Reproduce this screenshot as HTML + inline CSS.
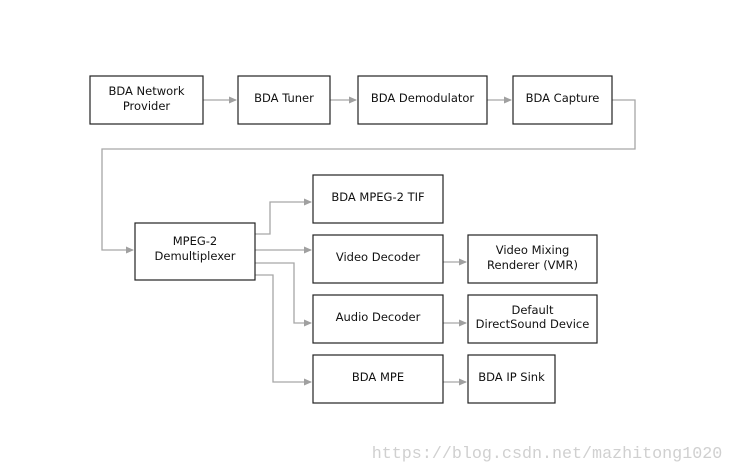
<!DOCTYPE html>
<html><head><meta charset="utf-8"><style>
body{margin:0;background:#fff;}
svg{display:block;}
text{font-family:"DejaVu Sans","Liberation Sans",sans-serif;font-size:11.5px;fill:#111;text-anchor:middle;}
rect{fill:#fff;stroke:#222;stroke-width:1.2;}
.l{fill:none;stroke:#a6a6a6;stroke-width:1.3;}
</style></head><body>
<svg width="733" height="471" viewBox="0 0 733 471">
<defs><marker id="a" markerWidth="8" markerHeight="8" refX="7" refY="4" orient="auto" markerUnits="userSpaceOnUse"><path d="M0,0.5 L8,4 L0,7.5z" fill="#a0a0a0"/></marker></defs>
<path class="l" d="M203,100H236" marker-end="url(#a)"/>
<path class="l" d="M330,100H356" marker-end="url(#a)"/>
<path class="l" d="M487,100H511" marker-end="url(#a)"/>
<path class="l" d="M612,100H635V149H102V250H133" marker-end="url(#a)"/>
<path class="l" d="M255,234H270V202H311" marker-end="url(#a)"/>
<path class="l" d="M255,250H311" marker-end="url(#a)"/>
<path class="l" d="M255,263H294V323H311" marker-end="url(#a)"/>
<path class="l" d="M255,275H273V382H311" marker-end="url(#a)"/>
<path class="l" d="M443,262H466" marker-end="url(#a)"/>
<path class="l" d="M443,323H466" marker-end="url(#a)"/>
<path class="l" d="M443,382H466" marker-end="url(#a)"/>
<rect x="90" y="76" width="113" height="48"/>
<text x="146.5" y="95">BDA Network</text><text x="146.5" y="110">Provider</text>
<rect x="238" y="76" width="92" height="48"/><text x="284" y="102">BDA Tuner</text>
<rect x="358" y="76" width="129" height="48"/><text x="422.5" y="102">BDA Demodulator</text>
<rect x="513" y="76" width="99" height="48"/><text x="562.5" y="102">BDA Capture</text>
<rect x="135" y="223" width="120" height="57"/>
<text x="195" y="245">MPEG-2</text><text x="195" y="260">Demultiplexer</text>
<rect x="313" y="175" width="130" height="48"/><text x="378" y="201">BDA MPEG-2 TIF</text>
<rect x="313" y="235" width="130" height="48"/><text x="378" y="261">Video Decoder</text>
<rect x="468" y="235" width="129" height="48"/>
<text x="532.5" y="254">Video Mixing</text><text x="532.5" y="269">Renderer (VMR)</text>
<rect x="313" y="295" width="130" height="48"/><text x="378" y="321">Audio Decoder</text>
<rect x="468" y="295" width="129" height="48"/>
<text x="532.5" y="314">Default</text><text x="532.5" y="328">DirectSound Device</text>
<rect x="313" y="355" width="130" height="48"/><text x="378" y="381">BDA MPE</text>
<rect x="468" y="355" width="87" height="48"/><text x="511.5" y="381">BDA IP Sink</text>
<text x="547" y="458" style="font-family:'Liberation Mono','DejaVu Sans Mono',monospace;font-size:16.7px;fill:#d0d0d0;">https://blog.csdn.net/mazhitong1020</text>
</svg>
</body></html>
